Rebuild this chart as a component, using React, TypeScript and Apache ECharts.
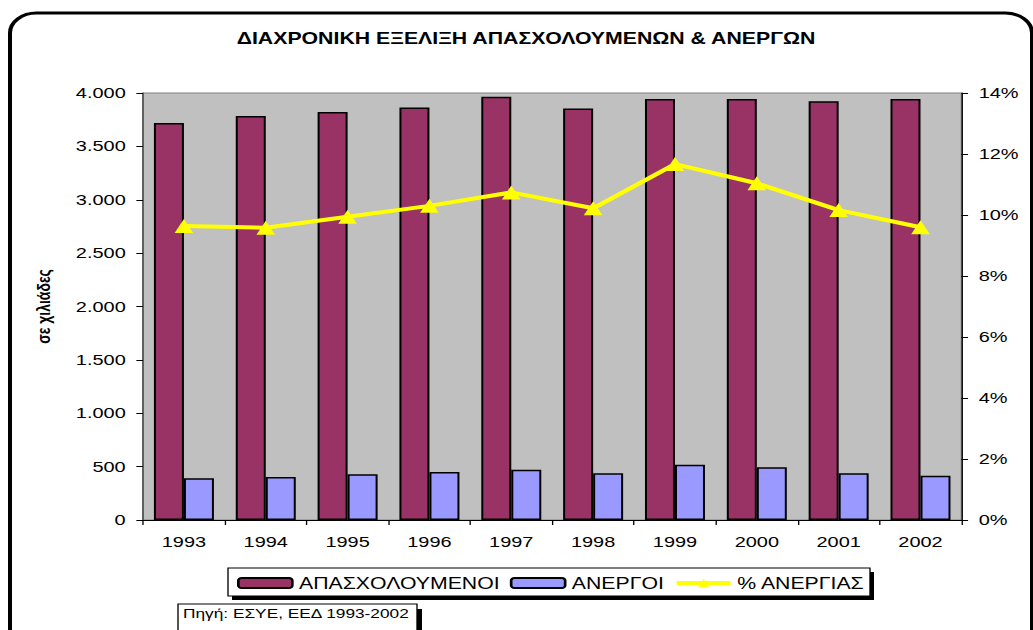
import React, { useEffect, useRef } from "react";
import * as echarts from "echarts";

const years = ["1993", "1994", "1995", "1996", "1997", "1998", "1999", "2000", "2001", "2002"];
const employed = [3719, 3785, 3822, 3864, 3965, 3855, 3944, 3944, 3922, 3944];
const unemployed = [390, 403, 428, 450, 471, 437, 518, 493, 437, 415];
const unemploymentRate = [9.64, 9.58, 9.94, 10.3, 10.74, 10.22, 11.67, 11.04, 10.16, 9.6];

const seriesNames = ["ΑΠΑΣΧΟΛΟΥΜΕΝΟΙ", "ΑΝΕΡΓΟΙ", "% ΑΝΕΡΓΙΑΣ"];
const titleText = "ΔΙΑΧΡΟΝΙΚΗ ΕΞΕΛΙΞΗ ΑΠΑΣΧΟΛΟΥΜΕΝΩΝ & ΑΝΕΡΓΩΝ";
const yAxisName = "σε χιλιάδες";
const sourceText = "Πηγή: ΕΣΥΕ, ΕΕΔ 1993-2002";

const S = 1.33; // horizontal stretch of the original picture
const W = 1033 / S;
const H = 630;
const FONT = 'Arial, "Liberation Sans", sans-serif';
const sx = (x: number) => x / S;

function fmtThousands(v: number): string {
  if (v >= 1000) {
    const k = Math.floor(v / 1000);
    const r = v % 1000;
    return `${k}.${String(r).padStart(3, "0")}`;
  }
  return String(v);
}

export default function App() {
  const ref = useRef<HTMLDivElement>(null);

  useEffect(() => {
    if (!ref.current) return;
    const chart = echarts.init(ref.current, undefined, { renderer: "svg" });
    const option: any = {
      animation: false,
      backgroundColor: "#ffffff",
      textStyle: { fontFamily: FONT },
      grid: {
        left: sx(143),
        right: W - sx(961),
        top: 93,
        bottom: H - 520,
        show: true,
        backgroundColor: "#C0C0C0",
        borderColor: "#808080",
        borderWidth: 1,
      },
      legend: {
        left: sx(237),
        top: 575,
        padding: 0,
        itemWidth: sx(54),
        itemHeight: 10,
        itemGap: sx(10),
        textStyle: { fontFamily: FONT, fontSize: 16, color: "#000" },
        data: [
          { name: seriesNames[0] },
          { name: seriesNames[1] },
          { name: seriesNames[2], lineStyle: { width: 4, color: "#FFFF00" } },
        ],
      },
      xAxis: {
        type: "category",
        data: years,
        axisLine: { lineStyle: { color: "#000", width: 1 } },
        axisTick: { show: true, interval: 0, alignWithLabel: false, length: 5, lineStyle: { color: "#000" } },
        axisLabel: { fontFamily: FONT, fontSize: 15, color: "#000", margin: 14, interval: 0 },
        splitLine: { show: false },
      },
      yAxis: [
        {
          type: "value",
          min: 0,
          max: 4000,
          interval: 500,
          name: yAxisName,
          nameLocation: "middle",
          nameRotate: 90,
          nameGap: sx(143) - sx(53),
          nameTextStyle: { fontFamily: FONT, fontSize: 14, fontWeight: "bold", color: "#000" },
          axisLine: { show: true, lineStyle: { color: "#404040", width: 1 } },
          axisTick: { show: true, length: 5, lineStyle: { color: "#000" } },
          axisLabel: { fontFamily: FONT, fontSize: 15, color: "#000", margin: 13, formatter: fmtThousands },
          splitLine: { show: false },
        },
        {
          type: "value",
          min: 0,
          max: 14,
          interval: 2,
          position: "right",
          axisLine: { show: true, lineStyle: { color: "#000", width: 1 } },
          axisTick: { show: true, length: 5, lineStyle: { color: "#000" } },
          axisLabel: { fontFamily: FONT, fontSize: 15, color: "#000", margin: 13, formatter: "{value}%" },
          splitLine: { show: false },
        },
      ],
      series: [
        {
          name: seriesNames[0],
          type: "bar",
          data: employed,
          barWidth: sx(30),
          barGap: "0%",
          itemStyle: { color: "#993366", borderColor: "#000", borderWidth: 1.5 },
        },
        {
          name: seriesNames[1],
          type: "bar",
          data: unemployed,
          barWidth: sx(30),
          barGap: "0%",
          itemStyle: { color: "#9999FF", borderColor: "#000", borderWidth: 1.5 },
        },
        {
          name: seriesNames[2],
          type: "line",
          yAxisIndex: 1,
          data: unemploymentRate,
          symbol: "triangle",
          symbolSize: [14, 14],
          lineStyle: { color: "#FFFF00", width: 4 },
          itemStyle: { color: "#FFFF00" },
          z: 5,
        },
      ],
      graphic: [
        {
          type: "rect",
          shape: { x: sx(10), y: 13, width: sx(1032) - sx(10), height: 650, r: 20 },
          style: { fill: "none", stroke: "#000", lineWidth: 3 },
          silent: true,
          z: 0,
        },
        {
          type: "text",
          x: sx(526),
          y: 38,
          style: {
            text: titleText,
            fontFamily: FONT,
            fontSize: 16,
            fontWeight: "bold",
            fill: "#000",
            align: "center",
            verticalAlign: "middle",
          },
        },
        {
          type: "rect",
          shape: { x: sx(232), y: 572, width: sx(870) - sx(228), height: 28 },
          style: { fill: "#000" },
          silent: true,
          z: 0,
        },
        {
          type: "rect",
          shape: { x: sx(228), y: 568, width: sx(870) - sx(228), height: 28 },
          style: { fill: "#fff", stroke: "#000", lineWidth: 1 },
          silent: true,
          z: 0,
        },
        {
          type: "rect",
          shape: { x: sx(183), y: 609, width: sx(417) - sx(178), height: 40 },
          style: { fill: "#000" },
          silent: true,
          z: 0,
        },
        {
          type: "rect",
          shape: { x: sx(178), y: 604, width: sx(417) - sx(178), height: 40 },
          style: { fill: "#fff", stroke: "#000", lineWidth: 1 },
          silent: true,
          z: 0,
        },
        {
          type: "text",
          x: sx(183),
          y: 613,
          style: {
            text: sourceText,
            fontFamily: FONT,
            fontSize: 13,
            fill: "#000",
            align: "left",
            verticalAlign: "middle",
          },
        },
      ],
    };
    chart.setOption(option);
    return () => chart.dispose();
  }, []);

  return (
    <div
      style={{
        position: "fixed",
        left: 0,
        top: 0,
        width: 1033,
        height: 630,
        overflow: "hidden",
        background: "#fff",
      }}
    >
      <div
        ref={ref}
        style={{
          width: W,
          height: H,
          transform: `scaleX(${S})`,
          transformOrigin: "0 0",
        }}
      />
    </div>
  );
}
